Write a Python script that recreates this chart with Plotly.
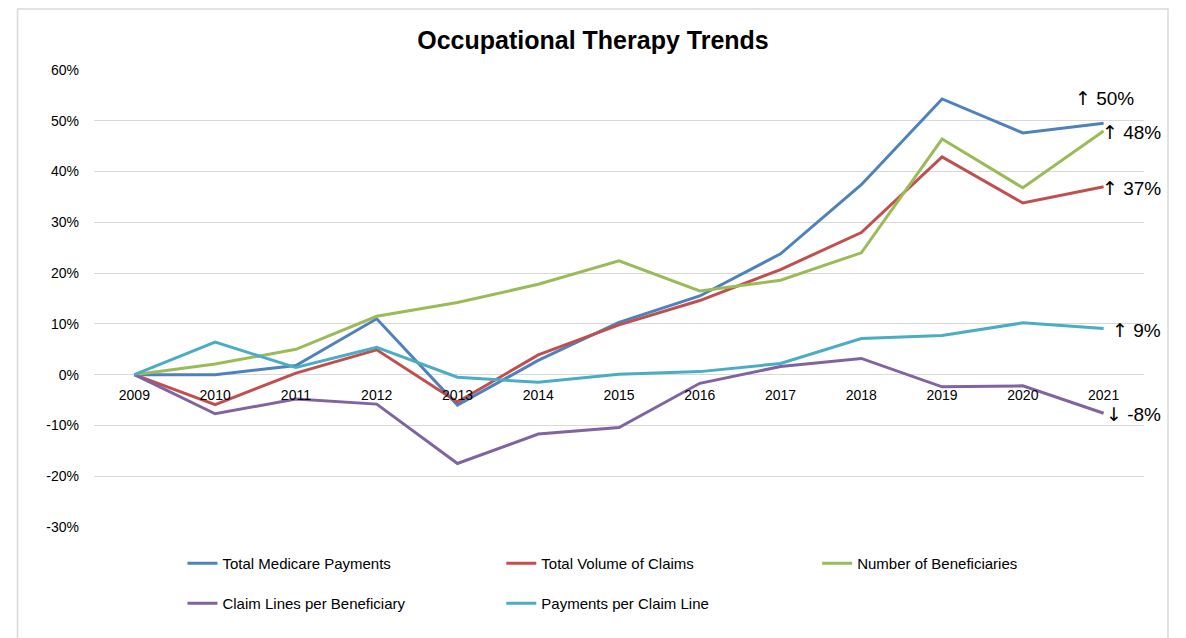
import plotly.graph_objects as go

years = [2009, 2010, 2011, 2012, 2013, 2014, 2015, 2016, 2017, 2018, 2019, 2020, 2021]
total_payments = [0, 0.0, 1.8, 11.0, -6.0, 2.8, 10.3, 15.5, 23.8, 37.4, 54.3, 47.6, 49.5]
total_claims = [0, -5.9, 0.3, 4.9, -5.4, 3.9, 9.8, 14.6, 20.7, 28.0, 42.9, 33.8, 37.0]
beneficiaries = [0, 2.1, 5.0, 11.5, 14.2, 17.8, 22.4, 16.5, 18.6, 24.0, 46.4, 36.8, 48.0]
lines_per_bene = [0, -7.7, -4.8, -5.8, -17.5, -11.7, -10.4, -1.7, 1.6, 3.2, -2.4, -2.2, -7.6]
pay_per_line = [0, 6.4, 1.4, 5.4, -0.5, -1.5, 0.1, 0.6, 2.2, 7.1, 7.7, 10.2, 9.1]

series_names = ["Total Medicare Payments", "Total Volume of Claims", "Number of Beneficiaries",
                "Claim Lines per Beneficiary", "Payments per Claim Line"]
series_values = [total_payments, total_claims, beneficiaries, lines_per_bene, pay_per_line]
series_colors = ["#4F81BD", "#C0504D", "#9BBB59", "#8064A2", "#4BACC6"]

y_ticks = [-30, -20, -10, 0, 10, 20, 30, 40, 50, 60]
y_tick_labels = ["-30%", "-20%", "-10%", "0%", "10%", "20%", "30%", "40%", "50%", "60%"]

end_labels = [("\u2191", " 50%", 54.5), ("\u2191", " 48%", 47.8), ("\u2191", " 37%", 36.8),
              ("\u2191", " 9%", 8.7), ("\u2193", " -8%", -7.7)]

FONT = "Liberation Sans, Arial, sans-serif"

# page offset (body margin) compensation; all positions below in screen pixels
OFF = 8
W, H = 1186 - OFF, 638 - OFF
PL, PR, PT, PB = 93.5, 1144, 70, 527  # plot area in screen pixels
L = PL - OFF
T = PT - OFF
R = W - (PR - OFF)
B = H - (PB - OFF)
pw = PR - PL
ph = PB - PT


def px_x(p):
    return (p - PL) / pw


def px_y(p):
    return (PB - p) / ph


fig = go.Figure()
legend_ids = ["legend", "legend2", "legend3", "legend4", "legend5"]
for name, vals, color, lg in zip(series_names, series_values, series_colors, legend_ids):
    fig.add_trace(go.Scatter(x=years, y=vals, mode="lines", name=name,
                             line=dict(color=color, width=3), legend=lg, showlegend=True))

annotations = []
for i, (arrow, txt, yv) in enumerate(end_labels):
    right = 1136 if i == 0 else 1163
    annotations.append(dict(
        x=px_x(right), xref="paper", y=yv, yref="y",
        text=f"<span style='font-family:DejaVu Sans'>{arrow}</span>{txt}",
        showarrow=False, xanchor="right", yanchor="middle",
        font=dict(family=FONT, size=19, color="#000000")))

legend_pos = [(182, 547), (501, 547), (817, 547), (182, 587), (501, 587)]
legend_cfg = {}
for lg, (lx, ly) in zip(legend_ids, legend_pos):
    legend_cfg[lg] = dict(orientation="h", x=px_x(lx), y=px_y(ly), xanchor="left",
                          yanchor="top", font=dict(family=FONT, size=15, color="#000000"),
                          bgcolor="rgba(0,0,0,0)")

fig.update_layout(
    width=W, height=H,
    showlegend=True,
    margin=dict(l=L, r=R, t=T, b=B, autoexpand=False),
    paper_bgcolor="white", plot_bgcolor="white",
    title=dict(text="<b>Occupational Therapy Trends</b>", x=(593 - OFF) / W, xref="container",
               y=1 - (40 - OFF) / H, yref="container", xanchor="center", yanchor="middle",
               font=dict(family=FONT, size=25, color="#000000")),
    xaxis=dict(range=[2008.5, 2021.5], tickmode="array", tickvals=years,
               ticktext=[str(y) for y in years], showgrid=False, zeroline=False,
               showline=False, ticks="", anchor="free", position=30 / 90,
               ticklabelstandoff=10,
               tickfont=dict(family=FONT, size=14, color="#000000")),
    yaxis=dict(range=[-30, 60], tickmode="array", tickvals=y_ticks, ticktext=y_tick_labels,
               showgrid=True, gridcolor="#D9D9D9", gridwidth=1, zeroline=False,
               showline=False, ticks="", ticklabelstandoff=14,
               tickfont=dict(family=FONT, size=14, color="#000000")),
    annotations=annotations,
    shapes=[dict(type="rect", xref="paper", yref="paper",
                 x0=px_x(17), x1=px_x(1168), y0=px_y(660), y1=px_y(9),
                 line=dict(color="#D9D9D9", width=1.5), fillcolor="rgba(0,0,0,0)",
                 layer="below")],
    **legend_cfg,
)

fig.write_html("out.html")
